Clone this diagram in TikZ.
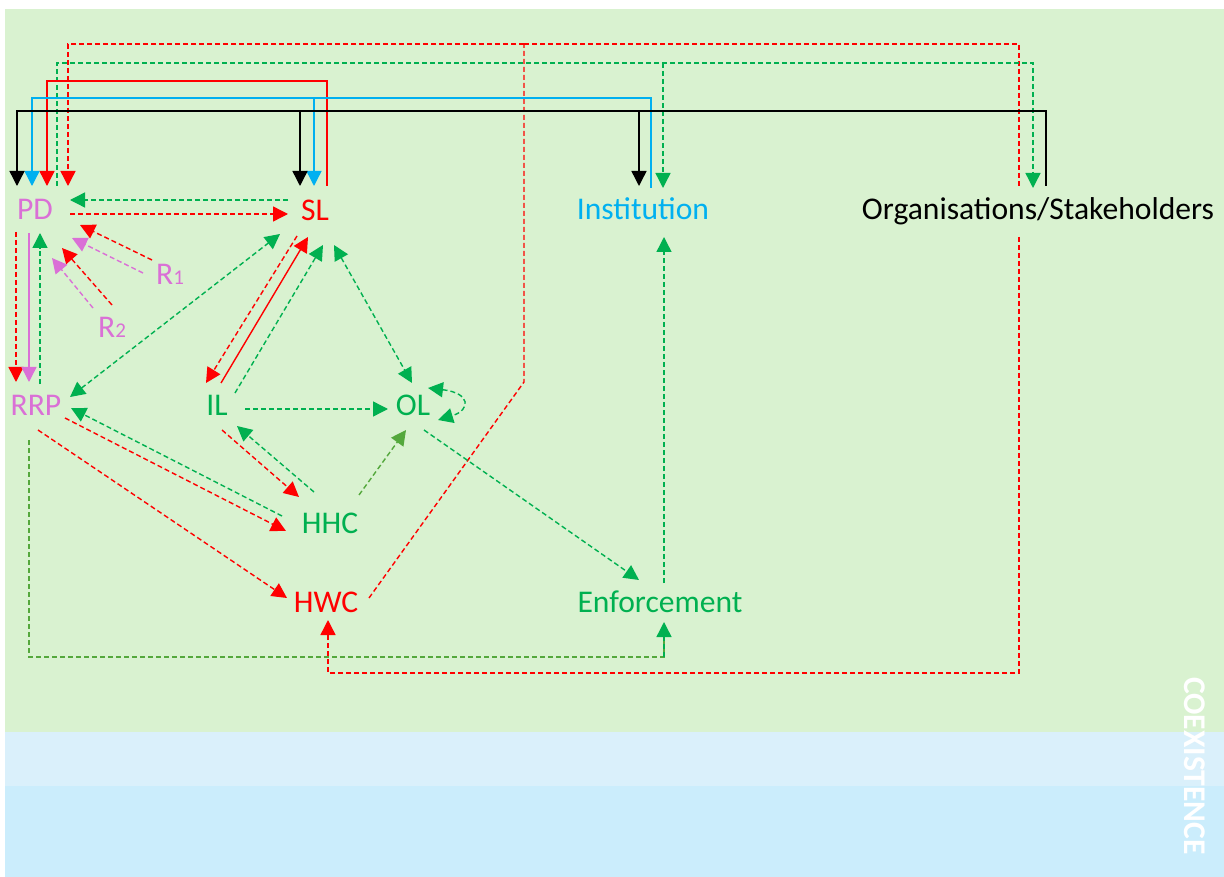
\documentclass[tikz,border=0pt]{standalone}
\usepackage{fontspec}
\setmainfont{Carlito}
\usetikzlibrary{arrows.meta,calc}
\definecolor{bgg}{RGB}{217,242,208}
\definecolor{bgb1}{RGB}{218,240,251}
\definecolor{bgb2}{RGB}{203,237,252}
\definecolor{cred}{RGB}{255,0,0}
\definecolor{cgreen}{RGB}{0,176,80}
\definecolor{colive}{RGB}{84,168,60}
\definecolor{cpink}{RGB}{218,112,214}
\definecolor{cblue}{RGB}{0,176,240}
\tikzset{
  lbl/.style={anchor=base, inner sep=0pt, font=\fontsize{31.6}{37}\selectfont},
  arr/.style={-{Triangle[width=15pt,length=15pt]}},
  darr/.style={{Triangle[width=15pt,length=15pt]}-{Triangle[width=15pt,length=15pt]}},
  rd/.style={draw=cred, line width=1.4pt, dash pattern=on 5pt off 3pt},
  gd/.style={draw=cgreen, line width=1.4pt, dash pattern=on 5pt off 3pt},
  od/.style={draw=colive, line width=1.4pt, dash pattern=on 5pt off 3pt},
  pdsh/.style={draw=cpink, line width=1.4pt, dash pattern=on 5pt off 3pt},
  rs/.style={draw=cred, line width=1.4pt},
  ps/.style={draw=cpink, line width=1.4pt},
  bs/.style={draw=cblue, line width=1.4pt},
  ks/.style={draw=black, line width=1.4pt},
}
\begin{document}
\begin{tikzpicture}[x=1pt,y=-1pt]
\useasboundingbox (0,0) rectangle (1224,877);
\fill[bgg] (5,9) rectangle (1224,732);
\fill[bgb1] (5,732) rectangle (1224,786);
\fill[bgb2] (5,786) rectangle (1224,877);

% nodes
\node[lbl, text=cpink] (PD) at (35,220) {PD};
\node[lbl, text=cred] (SL) at (315,221) {SL};
\node[lbl, text=cblue] (Inst) at (643,220) {Institution};
\node[lbl, text=black] (Org) at (1038,220) {Organisations/Stakeholders};
\node[lbl, text=cpink] (R1) at (170,285) {R{\fontsize{21}{24}\selectfont 1}};
\node[lbl, text=cpink] (R2) at (112,338) {R{\fontsize{21}{24}\selectfont 2}};
\node[lbl, text=cpink] (RRP) at (36,415) {RRP};
\node[lbl, text=cgreen] (IL) at (217,415) {IL};
\node[lbl, text=cgreen] (OL) at (413,415) {OL};
\node[lbl, text=cgreen] (HHC) at (330,533) {HHC};
\node[lbl, text=cred] (HWC) at (326,612) {HWC};
\node[lbl, text=cgreen] (Enf) at (660,612) {Enforcement};
\node[font=\bfseries\fontsize{31.6}{37}\selectfont, text=white, rotate=-90, inner sep=0pt] (Coex) at (1195,766) {COEXISTENCE};

% red dashed top bus
\coordinate (rbend) at (524,382);
\coordinate (rtop) at (524,44);
\draw[rd] ($(HWC.base)+(43,-14)$) -- (rbend) -- (rtop);
\draw[rd,arr] (rtop) -| ($(PD.base)+(33,-34)$);
\draw[rd] (rtop) -| ($(Org.base)+(-19,-33)$);
\draw[rd,arr] ($(Org.base)+(-19,17)$) -- ++(0,436) -| ($(HWC.base)+(2,8)$);

% green dashed top bus
\draw[gd,arr] ($(PD.base)+(22,-34)$) -- ++(0,-123) -| ($(Org.base)+(-5,-32)$);
\draw[gd,arr] ($(Inst.base)+(20,-157)$) -- ($(Inst.base)+(20,-32)$);

% red solid SL -> PD
\draw[rs,arr] ($(SL.base)+(12,-35)$) -- ++(0,-105) -| ($(PD.base)+(12,-34)$);

% blue Institution -> PD, SL
\draw[bs,arr] ($(Inst.base)+(8,-32)$) -- ++(0,-90) -| ($(PD.base)+(-3,-34)$);
\draw[bs,arr] ($(SL.base)+(-1,-123)$) -- ($(SL.base)+(-1,-35)$);

% black Organisations -> PD, SL, Institution
\draw[ks,arr] ($(Org.base)+(8,-34)$) -- ++(0,-75) -| ($(PD.base)+(-18,-34)$);
\draw[ks,arr] ($(SL.base)+(-15,-110)$) -- ($(SL.base)+(-15,-35)$);
\draw[ks,arr] ($(Inst.base)+(-4,-109)$) -- ($(Inst.base)+(-4,-34)$);

% PD <-> SL
\draw[gd,arr] ($(SL.base)+(-27,-21)$) -- ($(PD.base)+(35,-20)$);
\draw[rd,arr] ($(PD.base)+(35,-6)$) -- ($(SL.base)+(-27,-7)$);

% PD <-> RRP
\draw[rd,arr] ($(PD.base)+(-19,12)$) -- ($(RRP.base)+(-20,-33)$);
\draw[ps,arr] ($(PD.base)+(-6,13)$) -- ($(RRP.base)+(-7,-33)$);
\draw[gd,arr] ($(RRP.base)+(4,-31)$) -- ($(PD.base)+(5,13)$);

% R1, R2 -> PD
\draw[rd,arr] ($(R1.base)+(-18,-25)$) -- ($(PD.base)+(45,5)$);
\draw[pdsh,arr] ($(R1.base)+(-27,-12)$) -- ($(PD.base)+(37,18)$);
\draw[rd,arr] ($(R2.base)+(0,-33)$) -- ($(PD.base)+(27,28)$);
\draw[pdsh,arr] ($(R2.base)+(-19,-30)$) -- ($(PD.base)+(17,38)$);

% SL <-> RRP
\draw[gd,darr] ($(RRP.base)+(34,-18)$) -- ($(SL.base)+(-35,13)$);

% SL <-> IL
\draw[rd,arr] ($(SL.base)+(-18,15)$) -- ($(IL.base)+(-11,-32)$);
\draw[rs,arr] ($(IL.base)+(4,-32)$) -- ($(SL.base)+(-7,16)$);
\draw[gd,arr] ($(IL.base)+(18,-22)$) -- ($(SL.base)+(8,24)$);

% SL <-> OL
\draw[gd,darr] ($(SL.base)+(19,24)$) -- ($(OL.base)+(-1,-32)$);

% OL self loop
\draw[gd,darr] ($(OL.base)+(15,-27)$) .. controls ($(OL.base)+(58,-22)$) and ($(OL.base)+(58,-5)$) .. ($(OL.base)+(25,5)$);

% IL -> OL
\draw[gd,arr] ($(IL.base)+(28,-6)$) -- ($(OL.base)+(-25,-6)$);

% IL <-> HHC
\draw[rd,arr] ($(IL.base)+(5,15)$) -- ($(HHC.base)+(-31,-36)$);
\draw[gd,arr] ($(HHC.base)+(-16,-41)$) -- ($(IL.base)+(20,11)$);

% HHC -> OL
\draw[od,arr] ($(HHC.base)+(29,-38)$) -- ($(OL.base)+(-7,15)$);

% RRP <-> HHC
\draw[gd,arr] ($(HHC.base)+(-48,-17)$) -- ($(RRP.base)+(35,-7)$);
\draw[rd,arr] ($(RRP.base)+(29,3)$) -- ($(HHC.base)+(-44,-2)$);

% RRP -> HWC
\draw[rd,arr] ($(RRP.base)+(2,15)$) -- ($(HWC.base)+(-39,-14)$);

% RRP -> Enforcement
\draw[od] ($(RRP.base)+(-7,25)$) -- ++(0,217) -| ($(Enf.base)+(4,10)$);
\draw[gd,arr] ($(Enf.base)+(4,45)$) -- ($(Enf.base)+(4,10)$);

% OL -> Enforcement
\draw[gd,arr] ($(OL.base)+(11,15)$) -- ($(Enf.base)+(-21,-32)$);

% Enforcement -> Institution
\draw[gd,arr] ($(Enf.base)+(4,-29)$) -- ($(Inst.base)+(21,17)$);
\end{tikzpicture}
\end{document}
